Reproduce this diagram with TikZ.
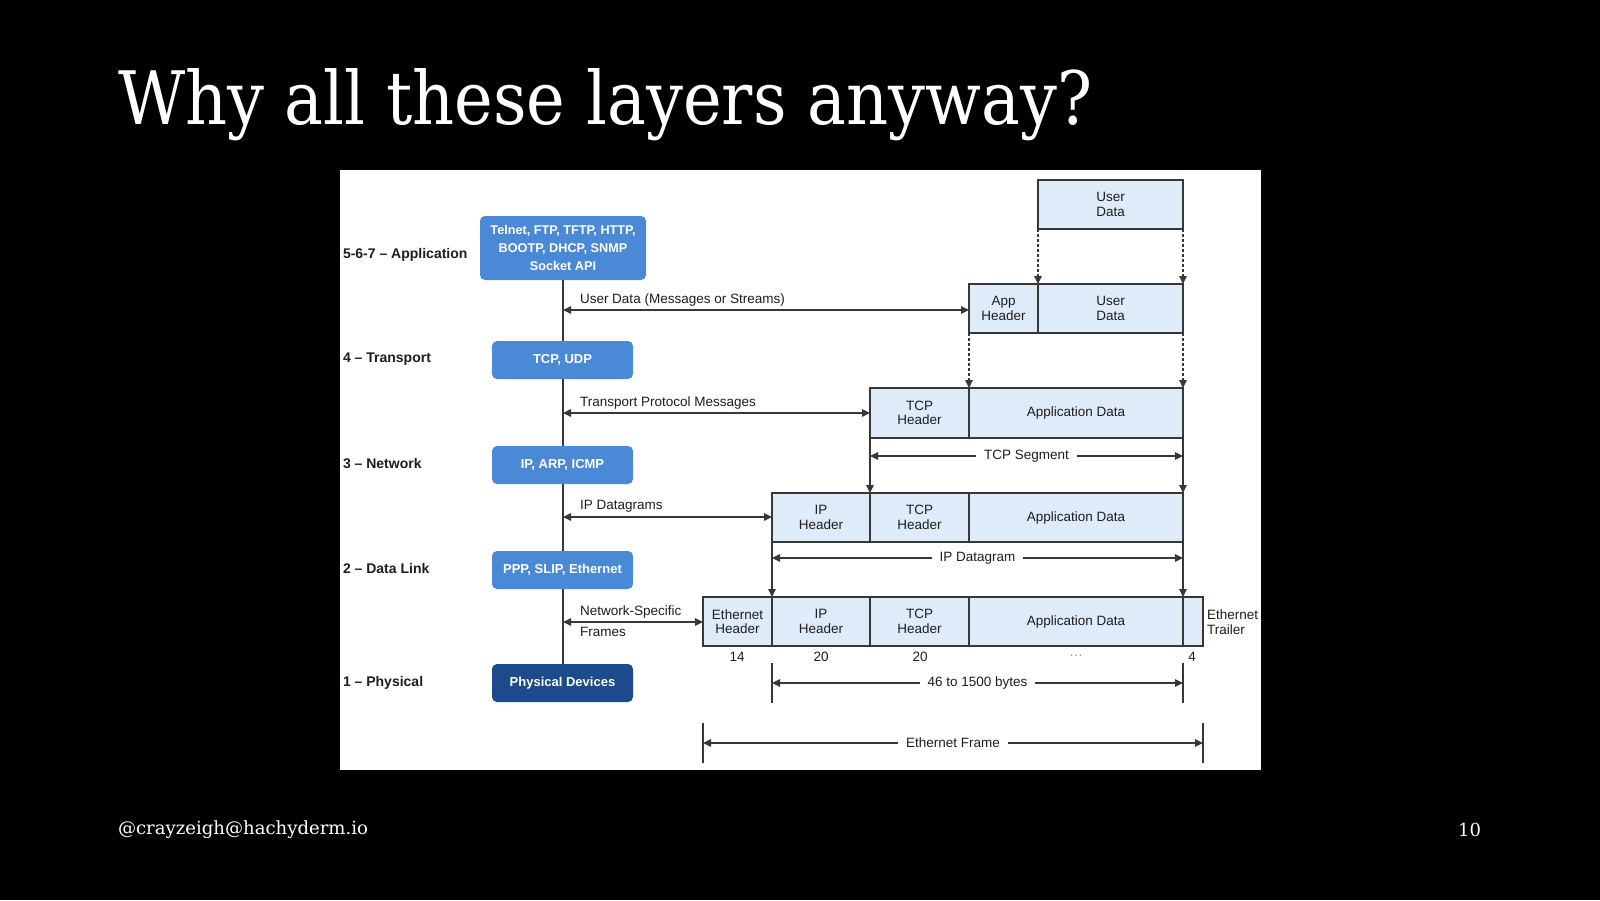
\documentclass[tikz,border=0pt]{standalone}
\usepackage{fontspec}
\setmainfont{DejaVu Serif}
\newfontfamily\arialf[Ligatures=TeX]{Liberation Sans}
\usetikzlibrary{arrows.meta}
\definecolor{midblue}{RGB}{74,137,214}
\definecolor{darkblue}{RGB}{28,74,138}
\definecolor{cellfill}{RGB}{222,236,250}
\definecolor{ink}{RGB}{55,55,55}
\definecolor{txt}{RGB}{30,30,30}
\begin{document}
\begin{tikzpicture}[x=1pt,y=-1pt,
  every node/.style={inner sep=0pt, outer sep=0pt},
  layerbox/.style={rounded corners=5pt, fill=midblue, text=white, font=\arialf\bfseries\fontsize{13}{18}\selectfont, align=center, anchor=north west},
  physbox/.style={layerbox, fill=darkblue},
  cell/.style={draw=ink, line width=1.6pt, fill=cellfill, anchor=north west, font=\arialf\fontsize{13.5}{14.5}\selectfont, align=center, text=txt},
  lbl/.style={font=\arialf\fontsize{13.5}{15}\selectfont, text=txt},
  layerlbl/.style={font=\arialf\bfseries\fontsize{14}{15}\selectfont, anchor=west, text=txt},
  conn/.style={draw=ink, line width=1.2pt},
  tip/.style={-{Triangle[length=8pt,width=7.5pt]}},
  dbl/.style={{Triangle[length=8pt,width=7.5pt]}-{Triangle[length=8pt,width=7.5pt]}},
  dasharrow/.style={conn, tip, dash pattern=on 3pt off 2pt},
  gaplbl/.style={lbl, fill=white, inner xsep=8pt, inner ysep=2pt}
]
% background
\fill[black] (0,0) rectangle (1600,900);
\fill[white] (340,170) rectangle (1261,770);

% title and footer
\node[anchor=base west, text=white] (title) at (118,124) {\resizebox{974pt}{56pt}{Why all these layers anyway?}};
\node[anchor=west, text=white] (foot) at (118,830) {\resizebox{250pt}{!}{\fontsize{20}{24}\selectfont @crayzeigh@hachyderm.io}};
\node[anchor=east, text=white, font=\fontsize{18}{22}\selectfont] (pnum) at (1481,830) {10};

% layer labels
\node[layerlbl] (l7) at (343,255) {5-6-7 – Application};
\node[layerlbl] (l4) at (343,359) {4 – Transport};
\node[layerlbl] (l3) at (343,463) {3 – Network};
\node[layerlbl] (l2) at (343,568) {2 – Data Link};
\node[layerlbl] (l1) at (343,683) {1 – Physical};

% protocol boxes
\coordinate (vtop) at (563,280);
\coordinate (vbot) at (563,664);
\draw[conn, line width=1.5pt] (vtop) -- (vbot);
\node[layerbox, minimum width=166pt, minimum height=64pt, font=\arialf\bfseries\fontsize{12.7}{18}\selectfont] (app) at (480,216) {Telnet, FTP, TFTP, HTTP,\\BOOTP, DHCP, SNMP\\Socket API};
\node[layerbox, minimum width=141pt, minimum height=38pt] (tcp) at (492,341) {TCP, UDP};
\node[layerbox, minimum width=141pt, minimum height=38pt] (ip) at (492,446) {IP, ARP, ICMP};
\node[layerbox, minimum width=141pt, minimum height=38pt] (ppp) at (492,551) {PPP, SLIP, Ethernet};
\node[physbox, minimum width=141pt, minimum height=38pt] (phys) at (492,664) {Physical Devices};

% row 1
\node[cell, minimum width=145pt, minimum height=49pt] (ud1) at (1038,180) {User\\Data};
% row 2
\node[cell, minimum width=69pt, minimum height=49pt] (ah2) at (969,284) {App\\Header};
\node[cell, minimum width=145pt, minimum height=49pt] (ud2) at (1038,284) {User\\Data};
% row 3
\node[cell, minimum width=99pt, minimum height=50pt] (tcph3) at (870,388) {TCP\\Header};
\node[cell, minimum width=214pt, minimum height=50pt] (appd3) at (969,388) {Application Data};
% row 4
\node[cell, minimum width=98pt, minimum height=49pt] (iph4) at (772,493) {IP\\Header};
\node[cell, minimum width=99pt, minimum height=49pt] (tcph4) at (870,493) {TCP\\Header};
\node[cell, minimum width=214pt, minimum height=49pt] (appd4) at (969,493) {Application Data};
% row 5
\node[cell, minimum width=69pt, minimum height=49pt] (eth5) at (703,597) {Ethernet\\Header};
\node[cell, minimum width=98pt, minimum height=49pt] (iph5) at (772,597) {IP\\Header};
\node[cell, minimum width=99pt, minimum height=49pt] (tcph5) at (870,597) {TCP\\Header};
\node[cell, minimum width=214pt, minimum height=49pt] (appd5) at (969,597) {Application Data};
\node[cell, minimum width=20pt, minimum height=49pt] (trl5) at (1183,597) {};
\node[lbl, anchor=west, align=left, font=\arialf\fontsize{13.5}{14.5}\selectfont] (trlbl) at (1207,622) {Ethernet\\Trailer};

% sizes
\node[lbl] (n14) at (737,657) {14};
\node[lbl] (n20a) at (821,657) {20};
\node[lbl] (n20b) at (920,657) {20};
\node[lbl, text=black!45] (ndots) at (1076,657) {···};
\node[lbl] (n4) at (1192,657) {4};

% dashed encapsulation arrows
\draw[dasharrow] (ud1.south west) -- (ud2.north west);
\draw[dasharrow] (ud1.south east) -- (ud2.north east);
\draw[dasharrow] (ah2.south west) -- (appd3.north west);
\draw[dasharrow] (ud2.south east) -- (appd3.north east);
% solid encapsulation arrows
\draw[conn, tip] (tcph3.south west) -- (tcph4.north west);
\draw[conn, tip] (appd3.south east) -- (appd4.north east);
\draw[conn, tip] (iph4.south west) -- (iph5.north west);
\draw[conn, tip] (appd4.south east) -- (appd5.north east);

% TCP segment
\coordinate (tsL) at (870,456);
\coordinate (tsR) at (1183,456);
\draw[conn, dbl] (tsL) -- (tsR);
\node[gaplbl] (tslbl) at (1026.5,456) {TCP Segment};
% IP datagram
\coordinate (idL) at (772,558);
\coordinate (idR) at (1183,558);
\draw[conn, dbl] (idL) -- (idR);
\node[gaplbl] (idlbl) at (977.5,558) {IP Datagram};
% 46 to 1500 bytes
\coordinate (bT1) at (772,663); \coordinate (bB1) at (772,703);
\coordinate (bT2) at (1183,663); \coordinate (bB2) at (1183,703);
\draw[conn] (bT1) -- (bB1);
\draw[conn] (bT2) -- (bB2);
\coordinate (bL) at (772,683);
\coordinate (bR) at (1183,683);
\draw[conn, dbl] (bL) -- (bR);
\node[gaplbl] (blbl) at (977.5,683) {46 to 1500 bytes};
% Ethernet frame
\coordinate (eT1) at (703,723); \coordinate (eB1) at (703,763);
\coordinate (eT2) at (1203,723); \coordinate (eB2) at (1203,763);
\draw[conn] (eT1) -- (eB1);
\draw[conn] (eT2) -- (eB2);
\coordinate (eL) at (703,743);
\coordinate (eR) at (1203,743);
\draw[conn, dbl] (eL) -- (eR);
\node[gaplbl] (elbl) at (953,743) {Ethernet Frame};

% layer-to-data arrows
\coordinate (a1) at (563,310);
\coordinate (a2) at (563,413);
\coordinate (a3) at (563,517);
\coordinate (a4) at (563,622);
\draw[conn, dbl] (a1) -- (a1 -| ah2.west);
\draw[conn, dbl] (a2) -- (a2 -| tcph3.west);
\draw[conn, dbl] (a3) -- (a3 -| iph4.west);
\draw[conn, dbl] (a4) -- (a4 -| eth5.west);
\node[lbl, anchor=west] (t1) at (580,300) {User Data (Messages or Streams)};
\node[lbl, anchor=west] (t2) at (580,403) {Transport Protocol Messages};
\node[lbl, anchor=west] (t3) at (580,506) {IP Datagrams};
\node[lbl, anchor=west] (t4a) at (580,612) {Network-Specific};
\node[lbl, anchor=west] (t4b) at (580,632) {Frames};
\end{tikzpicture}
\end{document}
